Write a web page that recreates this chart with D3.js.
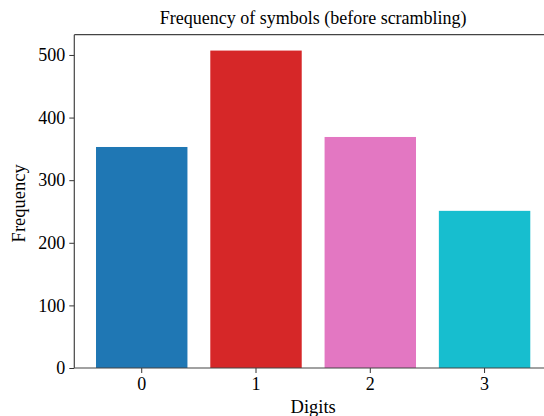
<!DOCTYPE html>
<html>
<head>
<meta charset="utf-8">
<script src="https://cdn.jsdelivr.net/npm/d3@7"></script>
<style>
  body { margin: 0; background: #fff; }
  svg text { font-family: "Liberation Serif", "Times New Roman", serif; fill: #000; }
</style>
</head>
<body>
<div id="chart"></div>
<script>
// Data
const digits = ["0", "1", "2", "3"];
const counts = [353, 507, 369, 251];
const barColors = ["#1f77b4", "#d62728", "#e377c2", "#17becf"];
const yTicks = [0, 100, 200, 300, 400, 500];

const W = 544, H = 416;
// plot area (right edge runs past the picture, as in the reference)
const plotLeft = 74.3, plotRight = 552, plotTop = 34.7, plotBottom = 368;

const svg = d3.select("#chart").append("svg")
  .attr("width", W)
  .attr("height", H);

const x = d3.scaleBand()
  .domain(digits)
  .range([plotLeft, plotRight])
  .paddingInner(0.2)
  .paddingOuter(0.19);

const y = d3.scaleLinear()
  .domain([0, d3.max(counts) * 1.05])
  .range([plotBottom, plotTop]);

// bars
svg.selectAll(".bar")
  .data(digits)
  .enter().append("rect")
  .attr("class", "bar")
  .attr("x", d => x(d))
  .attr("width", x.bandwidth())
  .attr("y", (d, i) => y(counts[i]))
  .attr("height", (d, i) => plotBottom - y(counts[i]))
  .attr("fill", (d, i) => barColors[i]);

// x axis
const xAxis = svg.append("g")
  .attr("transform", "translate(0," + plotBottom + ")")
  .call(d3.axisBottom(x).tickSize(5).tickPadding(4).tickSizeOuter(0));
xAxis.select(".domain").remove();
xAxis.selectAll("line").attr("stroke", "#333");
xAxis.selectAll("text").style("font-size", "18px").attr("fill", "#000");

// y axis
const yAxis = svg.append("g")
  .attr("transform", "translate(" + plotLeft + ",0)")
  .call(d3.axisLeft(y).tickValues(yTicks).tickSize(5).tickPadding(4));
yAxis.select(".domain").remove();
yAxis.selectAll("line").attr("stroke", "#333");
yAxis.selectAll("text").style("font-size", "18px").attr("fill", "#000");

// spines: left, bottom, top
svg.append("line")
  .attr("x1", plotLeft).attr("x2", plotLeft).attr("y1", plotTop).attr("y2", plotBottom)
  .attr("stroke", "#444").attr("stroke-width", 1.2);
svg.append("line")
  .attr("x1", plotLeft).attr("x2", plotRight).attr("y1", plotBottom).attr("y2", plotBottom)
  .attr("stroke", "#444").attr("stroke-width", 1.2);
svg.append("line")
  .attr("x1", plotLeft).attr("x2", plotRight).attr("y1", plotTop).attr("y2", plotTop)
  .attr("stroke", "#444").attr("stroke-width", 1.2);

// title
svg.append("text")
  .attr("x", (plotLeft + plotRight) / 2)
  .attr("y", 24)
  .attr("text-anchor", "middle")
  .style("font-size", "18px")
  .text("Frequency of symbols (before scrambling)");

// axis labels
svg.append("text")
  .attr("x", (plotLeft + plotRight) / 2)
  .attr("y", 413)
  .attr("text-anchor", "middle")
  .style("font-size", "18.5px")
  .text("Digits");

svg.append("text")
  .attr("transform", "translate(25," + ((plotTop + plotBottom) / 2 + 2) + ") rotate(-90)")
  .attr("text-anchor", "middle")
  .style("font-size", "18.5px")
  .text("Frequency");
</script>
</body>
</html>
